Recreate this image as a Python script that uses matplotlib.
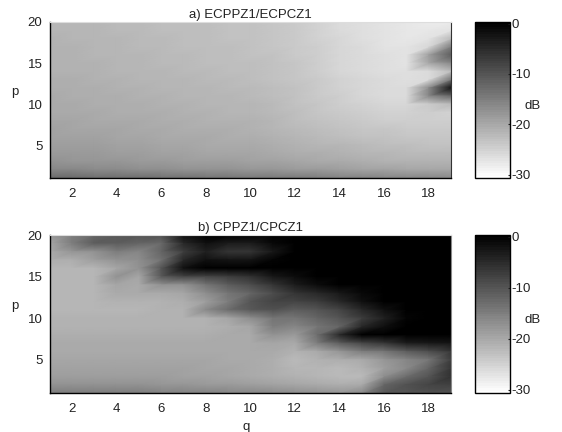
import numpy as np
import matplotlib
matplotlib.use("Agg")
import matplotlib.pyplot as plt
import matplotlib.tri as mtri

plt.rcParams['font.family'] = ['Liberation Sans', 'DejaVu Sans']
plt.rcParams['axes.unicode_minus'] = False

q_values = list(range(1, 20))
p_values = list(range(20, 0, -1))

x_ticks = [2, 4, 6, 8, 10, 12, 14, 16, 18]
y_ticks = [5, 10, 15, 20]
bar_ticks = [0, -10, -20, -30]

titles = ["a) ECPPZ1/ECPCZ1", "b) CPPZ1/CPCZ1"]

# dB, rows run from p=20 down to p=1, columns q=1..19
panel_a_db = [
    [-21.5,-21.6,-21.8,-22.0,-22.2,-22.4,-22.6,-22.8,-23.0,-23.2,-23.6,-24.2,-25.0,-25.8,-26.4,-27.0,-27.5,-27.8,-28.0],
    [-21.5,-21.6,-21.8,-22.0,-22.2,-22.4,-22.6,-22.8,-23.0,-23.2,-23.6,-24.2,-25.0,-25.8,-26.4,-27.0,-27.5,-27.6,-27.0],
    [-21.4,-21.5,-21.7,-21.9,-22.1,-22.3,-22.5,-22.7,-22.9,-23.1,-23.5,-24.1,-24.9,-25.7,-26.3,-26.9,-27.3,-27.0,-22.0],
    [-21.3,-21.4,-21.6,-21.8,-22.0,-22.2,-22.4,-22.6,-22.8,-23.0,-23.4,-24.0,-24.8,-25.6,-26.2,-26.8,-27.2,-25.5,-15.0],
    [-21.2,-21.3,-21.5,-21.7,-21.9,-22.1,-22.3,-22.5,-22.7,-22.9,-23.3,-23.9,-24.7,-25.5,-26.1,-26.7,-27.0,-19.0,-11.0],
    [-21.1,-21.2,-21.4,-21.6,-21.8,-22.0,-22.2,-22.4,-22.6,-22.8,-23.2,-23.8,-24.6,-25.4,-26.0,-26.6,-26.8,-19.5,-16.0],
    [-21.0,-21.1,-21.3,-21.5,-21.7,-21.9,-22.1,-22.3,-22.5,-22.7,-23.1,-23.7,-24.5,-25.3,-25.9,-26.4,-26.5,-26.0,-22.0],
    [-20.8,-20.9,-21.1,-21.3,-21.5,-21.7,-21.9,-22.1,-22.3,-22.5,-22.9,-23.5,-24.3,-25.1,-25.7,-26.2,-26.3,-25.8,-14.0],
    [-20.6,-20.7,-20.9,-21.1,-21.3,-21.5,-21.7,-21.9,-22.1,-22.3,-22.7,-23.3,-24.1,-24.9,-25.5,-26.0,-26.0,-16.5,-2.0],
    [-20.4,-20.5,-20.7,-20.9,-21.1,-21.3,-21.5,-21.7,-21.9,-22.1,-22.5,-23.1,-23.9,-24.7,-25.3,-25.8,-25.8,-16.0,-12.0],
    [-20.2,-20.3,-20.5,-20.7,-20.9,-21.1,-21.3,-21.5,-21.7,-21.9,-22.3,-22.9,-23.7,-24.5,-25.1,-25.5,-25.6,-24.0,-22.0],
    [-20.0,-20.1,-20.3,-20.5,-20.7,-20.9,-21.1,-21.3,-21.5,-21.7,-22.1,-22.7,-23.5,-24.2,-24.7,-25.0,-25.0,-24.5,-25.0],
    [-19.7,-19.8,-20.0,-20.2,-20.4,-20.6,-20.8,-21.0,-21.2,-21.4,-21.8,-22.4,-23.1,-23.7,-24.1,-24.4,-24.5,-24.6,-24.8],
    [-19.4,-19.5,-19.7,-19.9,-20.1,-20.3,-20.5,-20.7,-20.9,-21.1,-21.5,-22.0,-22.6,-23.1,-23.5,-23.8,-24.0,-24.1,-24.2],
    [-19.1,-19.2,-19.4,-19.6,-19.8,-20.0,-20.2,-20.4,-20.6,-20.8,-21.1,-21.6,-22.1,-22.5,-22.9,-23.2,-23.4,-23.5,-23.6],
    [-18.7,-18.8,-19.0,-19.2,-19.4,-19.6,-19.8,-20.0,-20.2,-20.4,-20.7,-21.1,-21.5,-21.9,-22.3,-22.6,-22.8,-22.9,-23.0],
    [-18.2,-18.3,-18.5,-18.7,-18.9,-19.1,-19.3,-19.5,-19.7,-19.9,-20.2,-20.6,-20.9,-21.3,-21.6,-21.9,-22.1,-22.2,-22.3],
    [-17.5,-17.6,-17.8,-18.0,-18.2,-18.4,-18.6,-18.8,-19.0,-19.2,-19.4,-19.7,-20.0,-20.4,-20.7,-21.0,-21.2,-21.3,-21.4],
    [-16.0,-16.1,-16.3,-16.5,-16.7,-16.9,-17.1,-17.3,-17.5,-17.7,-17.9,-18.2,-18.5,-18.8,-19.1,-19.4,-19.6,-19.7,-19.8],
    [-12.5,-12.6,-12.8,-13.0,-13.2,-13.4,-13.6,-13.8,-14.0,-14.2,-14.4,-14.6,-14.9,-15.2,-15.5,-15.8,-16.0,-16.1,-16.2],
]

panel_b_db = [
    [-17.6,-15.0,-12.0,-10.5,-10.0,-9.5,-2.0,0.0,0.0,0.0,0.0,1.0,1.0,1.0,1.0,1.0,1.0,1.0,1.0],
    [-19.5,-15.0,-11.0,-11.0,-12.0,-12.5,-5.0,-2.0,-3.5,-3.5,-1.0,0.5,1.0,1.0,1.0,1.0,1.0,1.0,1.0],
    [-20.0,-18.0,-17.5,-15.0,-16.0,-12.0,-7.0,-4.0,-6.0,-6.0,-3.0,0.0,1.0,1.0,1.0,1.0,1.0,1.0,1.0],
    [-20.5,-20.5,-19.0,-17.5,-17.0,-13.5,-5.0,-2.0,-2.5,-2.5,-0.5,1.0,1.0,1.0,1.0,1.0,1.0,1.0,1.0],
    [-21.8,-21.8,-21.8,-19.5,-17.5,-10.0,-2.0,0.0,0.0,0.0,0.0,1.0,1.0,1.0,1.0,1.0,1.0,1.0,1.0],
    [-21.8,-21.8,-21.8,-17.5,-19.5,-10.5,-8.0,-8.0,-7.0,-5.5,-3.0,-1.5,0.0,1.0,1.0,1.0,1.0,1.0,1.0],
    [-21.8,-21.8,-21.8,-19.5,-20.0,-17.5,-17.5,-14.0,-11.0,-9.0,-6.0,-3.5,-1.5,0.0,1.0,1.0,1.0,1.0,1.0],
    [-21.6,-21.6,-21.6,-20.0,-20.0,-20.0,-19.5,-17.0,-14.0,-12.0,-9.0,-6.0,-5.0,-3.0,-1.0,0.0,1.0,1.0,1.0],
    [-21.5,-21.5,-21.5,-21.2,-21.2,-21.2,-20.5,-19.0,-15.0,-10.0,-8.0,-8.0,-7.0,-5.0,-2.0,0.0,1.0,1.0,1.0],
    [-21.5,-21.5,-21.5,-21.5,-21.5,-21.3,-21.2,-16.5,-13.0,-10.5,-9.5,-11.0,-10.0,-8.0,-5.0,-2.0,0.0,1.0,1.0],
    [-21.3,-21.3,-21.3,-21.3,-21.3,-21.3,-21.2,-21.2,-19.5,-17.0,-14.0,-14.0,-12.0,-10.0,-7.0,-4.0,-0.5,1.0,1.0],
    [-21.0,-21.0,-21.0,-21.0,-21.0,-21.0,-21.0,-21.0,-20.5,-19.5,-15.0,-16.0,-14.0,-12.0,-5.0,-2.0,0.0,1.0,1.0],
    [-20.7,-20.7,-20.7,-20.7,-20.7,-20.7,-20.7,-20.5,-20.2,-20.0,-17.5,-18.5,-13.0,-5.0,0.0,0.0,0.0,0.0,0.0],
    [-20.3,-20.3,-20.3,-20.3,-20.3,-20.3,-20.3,-20.2,-20.0,-20.0,-19.5,-20.0,-15.0,-11.0,-8.0,-6.0,-3.5,-3.0,-2.5],
    [-20.0,-20.0,-20.0,-20.0,-20.0,-20.0,-20.0,-20.0,-20.0,-20.0,-20.2,-21.0,-20.0,-18.0,-15.0,-14.0,-11.0,-9.0,-6.0],
    [-19.6,-19.6,-19.6,-19.6,-19.6,-19.6,-19.7,-19.8,-20.0,-20.2,-20.5,-22.0,-21.0,-20.5,-20.0,-18.0,-16.0,-14.0,-7.0],
    [-19.2,-19.2,-19.2,-19.2,-19.2,-19.2,-19.4,-19.6,-19.9,-20.2,-20.7,-21.8,-21.8,-22.0,-21.0,-19.0,-16.5,-12.0,-6.0],
    [-18.8,-18.8,-18.8,-18.8,-18.8,-18.9,-19.1,-19.4,-19.7,-20.2,-20.7,-21.3,-21.8,-22.0,-22.0,-17.0,-13.0,-10.0,-5.5],
    [-17.5,-17.5,-17.5,-17.5,-17.5,-17.6,-17.8,-18.1,-18.4,-18.8,-19.2,-19.7,-20.2,-20.5,-20.0,-12.0,-9.5,-8.0,-7.5],
    [-15.0,-15.0,-15.0,-15.0,-15.0,-15.2,-15.4,-15.6,-15.8,-16.0,-16.3,-16.7,-17.2,-17.6,-16.5,-10.5,-10.0,-9.5,-9.5],
]


def px_axes(fig, left, top, right, bottom):
    w, h = fig.get_size_inches() * fig.dpi
    return fig.add_axes([left / w, 1 - bottom / h, (right - left) / w, (bottom - top) / h])


def draw_panel(fig, data, title, top, bottom, right_color, show_q):
    ax = px_axes(fig, 49.5, top, 451, bottom)
    nq = len(q_values)
    np_ = len(p_values)
    qq, pp = np.meshgrid(q_values, p_values)
    # split each cell along the lower-left to upper-right diagonal
    triangles = []
    for r in range(np_ - 1):
        for c in range(nq - 1):
            upper_left = r * nq + c
            upper_right = upper_left + 1
            lower_left = upper_left + nq
            lower_right = lower_left + 1
            triangles.append([lower_left, lower_right, upper_right])
            triangles.append([lower_left, upper_right, upper_left])
    tri = mtri.Triangulation(qq.ravel(), pp.ravel(), triangles)
    cmap = plt.get_cmap("gray_r", 64)
    mesh = ax.tripcolor(tri, np.array(data, dtype=float).ravel(), shading="gouraud",
                        cmap=cmap, vmin=-30.6, vmax=0.3)
    ax.set_xlim(1, 19)
    ax.set_ylim(1, 20)
    ax.set_xticks(x_ticks)
    ax.set_yticks(y_ticks)
    ax.tick_params(direction="in", length=0, labelsize=9.5, colors="#222222", pad=7)
    ax.tick_params(axis="y", pad=5)
    ax.set_title(title, fontsize=9.5, color="#222222", pad=3)
    ax.set_ylabel("p", fontsize=9.5, color="#222222", rotation=0)
    ax.yaxis.set_label_coords(-0.086, 0.51)
    if show_q:
        ax.set_xlabel("q", fontsize=9.5, color="#222222")
        ax.xaxis.set_label_coords(0.49, -0.175)
    ax.spines["top"].set_color("#dddddd")
    ax.spines["right"].set_color(right_color)
    for s in ["left", "bottom"]:
        ax.spines[s].set_color("black")
        ax.spines[s].set_linewidth(1.0)

    cax = px_axes(fig, 475, top, 510, bottom)
    bar = fig.colorbar(mesh, cax=cax)
    bar.set_ticks(bar_ticks)
    bar.ax.tick_params(direction="in", length=1.5, width=0.8, labelsize=9.5, colors="#222222", pad=1)
    bar.outline.set_edgecolor("black")
    bar.outline.set_linewidth(1.0)
    bar.set_label("dB", fontsize=9.5, color="#222222", rotation=0)
    bar.ax.yaxis.set_label_coords(1.66, 0.5)


fig = plt.figure(figsize=(5.62, 4.32), dpi=100)
draw_panel(fig, panel_a_db, titles[0], 22, 178, "#333333", False)
draw_panel(fig, panel_b_db, titles[1], 235, 393, "#888888", True)
fig.savefig("out.png", dpi=100)
